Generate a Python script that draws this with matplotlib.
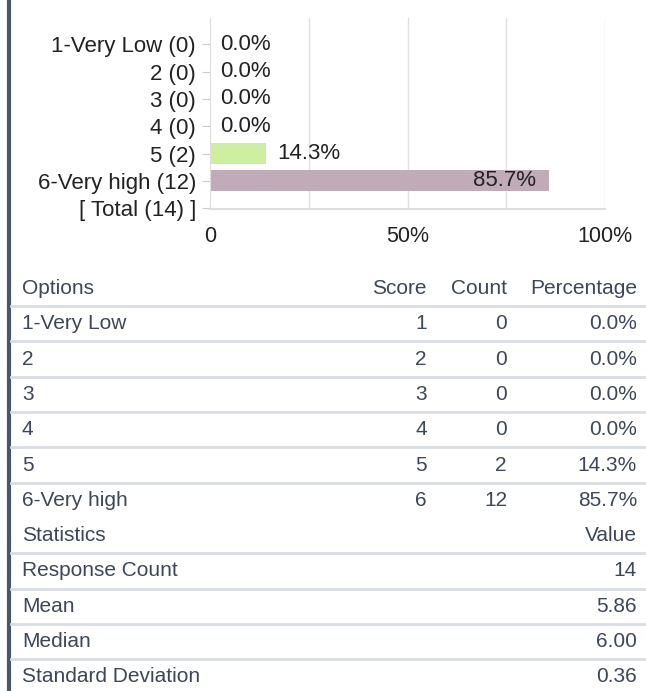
import matplotlib
matplotlib.use('Agg')
import matplotlib.pyplot as plt
from matplotlib.lines import Line2D

plt.rcParams['font.family'] = ['Liberation Sans', 'DejaVu Sans']

# chart data
chart_labels = ['1-Very Low (0)', '2 (0)', '3 (0)', '4 (0)', '5 (2)', '6-Very high (12)', '[ Total (14) ]']
chart_pct = [0.0, 0.0, 0.0, 0.0, 14.3, 85.7]
bar_colors = ['#cdf0a0', '#cdf0a0', '#cdf0a0', '#cdf0a0', '#cdf0a0', '#c1abb9']

# table data
options = ['1-Very Low', '2', '3', '4', '5', '6-Very high']
scores = [1, 2, 3, 4, 5, 6]
counts = [0, 0, 0, 0, 2, 12]
percentages = ['0.0%', '0.0%', '0.0%', '0.0%', '14.3%', '85.7%']
stat_names = ['Response Count', 'Mean', 'Median', 'Standard Deviation']
stat_values = ['14', '5.86', '6.00', '0.36']

W, H = 646, 691
fig = plt.figure(figsize=(W / 100, H / 100), dpi=100)

# background axes in pixel coords for the table
bg = fig.add_axes([0, 0, 1, 1])
bg.set_xlim(0, W)
bg.set_ylim(H, 0)
bg.axis('off')

# dark left bar
bg.add_line(Line2D([9, 9], [0, H], color='#4a5668', lw=3))

txt_col = '#3d4757'
line_col = '#d8dde3'
fs = 15

row_h = 35.3
y0 = 288.5
col_opt, col_score, col_count, col_pct = 22, 427, 507, 637

bg.text(col_opt, y0, 'Options', ha='left', va='center', fontsize=fs, color=txt_col)
bg.text(col_score, y0, 'Score', ha='right', va='center', fontsize=fs, color=txt_col)
bg.text(col_count, y0, 'Count', ha='right', va='center', fontsize=fs, color=txt_col)
bg.text(col_pct, y0, 'Percentage', ha='right', va='center', fontsize=fs, color=txt_col)

for i, (o, s, c, p) in enumerate(zip(options, scores, counts, percentages)):
    y = y0 + (i + 1) * row_h
    bg.add_line(Line2D([11, 645], [y - row_h / 2, y - row_h / 2], color=line_col, lw=2))
    bg.text(col_opt, y, o, ha='left', va='center', fontsize=fs, color=txt_col)
    bg.text(col_score, y, str(s), ha='right', va='center', fontsize=fs, color=txt_col)
    bg.text(col_count, y, str(c), ha='right', va='center', fontsize=fs, color=txt_col)
    bg.text(col_pct, y, p, ha='right', va='center', fontsize=fs, color=txt_col)

ys = y0 + (len(options) + 1) * row_h
bg.text(col_opt, ys, 'Statistics', ha='left', va='center', fontsize=fs, color=txt_col)
bg.text(col_pct, ys, 'Value', ha='right', va='center', fontsize=fs, color=txt_col)
for i, (n, v) in enumerate(zip(stat_names, stat_values)):
    y = ys + (i + 1) * row_h
    bg.add_line(Line2D([11, 645], [y - row_h / 2, y - row_h / 2], color=line_col, lw=2))
    bg.text(col_opt, y, n, ha='left', va='center', fontsize=fs, color=txt_col)
    bg.text(col_pct, y, v, ha='right', va='center', fontsize=fs, color=txt_col)

# bar chart axes
ax_l, ax_r, ax_t, ax_b = 210, 605, 18, 209
ax = fig.add_axes([ax_l / W, 1 - ax_b / H, (ax_r - ax_l) / W, (ax_b - ax_t) / H])
ax.patch.set_alpha(0)
n = len(chart_labels)
ax.set_xlim(0, 100)
ax.set_ylim(n - 1 + 0.03, -0.96)
ypos = list(range(len(chart_pct)))
ax.barh(ypos, chart_pct, height=0.77, color=bar_colors)

for y, v in zip(ypos, chart_pct):
    if v > 50:
        ax.text(v - 3.2, y, f'{v:.1f}%', ha='right', va='center', fontsize=16, color='#222222')
    else:
        ax.text(v + 2.6, y, f'{v:.1f}%', ha='left', va='center', fontsize=16, color='#222222')

for gx in [25, 50, 75, 100]:
    ax.axvline(gx, color='#e0e0e0', lw=1, zorder=0)
for sp in ['top', 'right']:
    ax.spines[sp].set_visible(False)
ax.spines['left'].set_color('#dddddd')
ax.spines['bottom'].set_color('#dddddd')
ax.spines['bottom'].set_linewidth(1.5)

ax.set_yticks(range(n))
ax.set_yticklabels(chart_labels, fontsize=16, color='#222222')
ax.tick_params(axis='y', length=6, color='#cccccc', pad=4)
ax.set_xticks([0, 50, 100])
ax.set_xticklabels(['0', '50%', '100%'], fontsize=15.5, color='#222222')
ax.tick_params(axis='x', length=0, pad=12)

fig.savefig('out.png', dpi=100)
